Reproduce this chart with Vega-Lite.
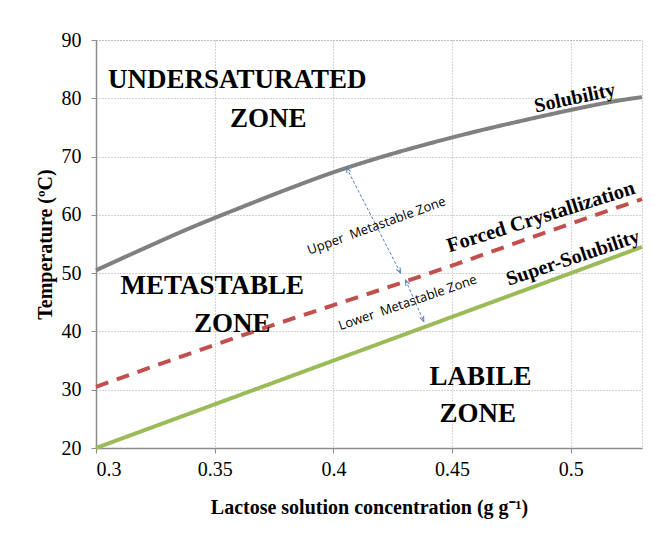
{
  "$schema": "https://vega.github.io/schema/vega-lite/v6.json",
  "width": 546,
  "height": 408,
  "autosize": {"type": "none"},
  "padding": {"left": 96, "top": 40, "right": 23, "bottom": 85},
  "background": "white",
  "config": {
    "view": {"stroke": "#a6a6a6", "strokeDash": [1, 2]},
    "axis": {
      "labelFont": "Liberation Serif",
      "labelFontSize": 20,
      "labelColor": "#000000",
      "titleFont": "Liberation Serif",
      "titleFontSize": 20,
      "titleFontWeight": "bold",
      "titleColor": "#000000",
      "domainColor": "#8c8c8c",
      "domainWidth": 1.5,
      "tickColor": "#8c8c8c",
      "tickSize": 5,
      "gridColor": "#a6a6a6",
      "gridDash": [1, 2],
      "gridWidth": 1
    }
  },
  "datasets": {
    "curves": [
      {"series": "Solubility", "x": 0.30, "y": 50.5},
      {"series": "Solubility", "x": 0.32, "y": 54.2},
      {"series": "Solubility", "x": 0.34, "y": 57.8},
      {"series": "Solubility", "x": 0.36, "y": 61.1},
      {"series": "Solubility", "x": 0.38, "y": 64.3},
      {"series": "Solubility", "x": 0.40, "y": 67.3},
      {"series": "Solubility", "x": 0.42, "y": 69.9},
      {"series": "Solubility", "x": 0.44, "y": 72.2},
      {"series": "Solubility", "x": 0.46, "y": 74.3},
      {"series": "Solubility", "x": 0.48, "y": 76.2},
      {"series": "Solubility", "x": 0.50, "y": 78.0},
      {"series": "Solubility", "x": 0.52, "y": 79.6},
      {"series": "Solubility", "x": 0.53, "y": 80.2},
      {"series": "Forced Crystallization", "x": 0.30, "y": 30.5},
      {"series": "Forced Crystallization", "x": 0.35, "y": 37.7},
      {"series": "Forced Crystallization", "x": 0.45, "y": 51.3},
      {"series": "Forced Crystallization", "x": 0.50, "y": 58.5},
      {"series": "Forced Crystallization", "x": 0.53, "y": 62.7},
      {"series": "Super-Solubility", "x": 0.30, "y": 20.0},
      {"series": "Super-Solubility", "x": 0.35, "y": 27.5},
      {"series": "Super-Solubility", "x": 0.45, "y": 42.5},
      {"series": "Super-Solubility", "x": 0.53, "y": 54.5}
    ],
    "arrows": [
      {"arrow": "upper", "end": "top", "x": 0.4055, "y": 68.1},
      {"arrow": "upper", "end": "bottom", "x": 0.4283, "y": 50.0},
      {"arrow": "lower", "end": "top", "x": 0.4304, "y": 48.8},
      {"arrow": "lower", "end": "bottom", "x": 0.4381, "y": 41.7}
    ],
    "zones": [
      {"label": "UNDERSATURATED", "x": 0.3595, "y": 81.8},
      {"label": "ZONE", "x": 0.3726, "y": 75.1},
      {"label": "METASTABLE", "x": 0.349, "y": 46.4},
      {"label": "ZONE", "x": 0.3574, "y": 39.9},
      {"label": "LABILE", "x": 0.462, "y": 30.8},
      {"label": "ZONE", "x": 0.4608, "y": 24.5}
    ]
  },
  "layer": [
    {
      "data": {"name": "curves"},
      "mark": {"type": "line", "strokeWidth": 4, "strokeCap": "butt", "interpolate": "monotone"},
      "encoding": {
        "x": {
          "field": "x", "type": "quantitative",
          "scale": {"domain": [0.3, 0.53], "nice": false, "zero": false},
          "axis": {"values": [0.3, 0.35, 0.4, 0.45, 0.5], "format": "~g", "labelPadding": 6, "title": "Lactose solution concentration (g g⁻¹)", "titleY": 65, "titleBaseline": "alphabetic"}
        },
        "y": {
          "field": "y", "type": "quantitative",
          "scale": {"domain": [20, 90], "nice": false, "zero": false},
          "axis": {"values": [20, 30, 40, 50, 60, 70, 80, 90], "labelPadding": 10, "title": "Temperature (ºC)", "titleX": -45, "titleBaseline": "alphabetic"}
        },
        "color": {
          "field": "series", "type": "nominal", "legend": null,
          "scale": {"domain": ["Solubility", "Forced Crystallization", "Super-Solubility"], "range": ["#808080", "#c0504d", "#9bbb59"]}
        },
        "strokeDash": {
          "field": "series", "type": "nominal", "legend": null,
          "scale": {"domain": ["Solubility", "Forced Crystallization", "Super-Solubility"], "range": [[1, 0], [13, 9], [1, 0]]}
        }
      }
    },
    {
      "data": {"name": "arrows"},
      "mark": {"type": "line", "stroke": "#4f81bd", "strokeWidth": 1, "strokeDash": [3, 2]},
      "encoding": {
        "x": {"field": "x", "type": "quantitative"},
        "y": {"field": "y", "type": "quantitative"},
        "detail": {"field": "arrow"}
      }
    },
    {
      "data": {"name": "arrows"},
      "transform": [{"filter": "datum.arrow == 'upper' && datum.end == 'top'"}],
      "mark": {"type": "point", "shape": "M-0.6,1.5L0,0L0.6,1.5", "size": 49, "filled": false, "stroke": "#4f81bd", "strokeWidth": 1, "opacity": 1, "angle": -27},
      "encoding": {"x": {"field": "x", "type": "quantitative"}, "y": {"field": "y", "type": "quantitative"}}
    },
    {
      "data": {"name": "arrows"},
      "transform": [{"filter": "datum.arrow == 'upper' && datum.end == 'bottom'"}],
      "mark": {"type": "point", "shape": "M-0.6,1.5L0,0L0.6,1.5", "size": 49, "filled": false, "stroke": "#4f81bd", "strokeWidth": 1, "opacity": 1, "angle": 153},
      "encoding": {"x": {"field": "x", "type": "quantitative"}, "y": {"field": "y", "type": "quantitative"}}
    },
    {
      "data": {"name": "arrows"},
      "transform": [{"filter": "datum.arrow == 'lower' && datum.end == 'top'"}],
      "mark": {"type": "point", "shape": "M-0.6,1.5L0,0L0.6,1.5", "size": 49, "filled": false, "stroke": "#4f81bd", "strokeWidth": 1, "opacity": 1, "angle": -24},
      "encoding": {"x": {"field": "x", "type": "quantitative"}, "y": {"field": "y", "type": "quantitative"}}
    },
    {
      "data": {"name": "arrows"},
      "transform": [{"filter": "datum.arrow == 'lower' && datum.end == 'bottom'"}],
      "mark": {"type": "point", "shape": "M-0.6,1.5L0,0L0.6,1.5", "size": 49, "filled": false, "stroke": "#4f81bd", "strokeWidth": 1, "opacity": 1, "angle": 156},
      "encoding": {"x": {"field": "x", "type": "quantitative"}, "y": {"field": "y", "type": "quantitative"}}
    },
    {
      "data": {"name": "zones"},
      "mark": {"type": "text", "font": "Liberation Serif", "fontSize": 27, "fontWeight": "bold", "color": "#000000", "align": "center", "baseline": "alphabetic"},
      "encoding": {
        "x": {"field": "x", "type": "quantitative"},
        "y": {"field": "y", "type": "quantitative"},
        "text": {"field": "label"}
      }
    },
    {
      "data": {"values": [{"label": "Solubility", "x": 0.5017, "y": 80.05}]},
      "mark": {"type": "text", "font": "Liberation Serif", "fontSize": 20, "fontWeight": "bold", "color": "#000000", "align": "center", "baseline": "middle", "angle": -12},
      "encoding": {"x": {"field": "x", "type": "quantitative"}, "y": {"field": "y", "type": "quantitative"}, "text": {"field": "label"}}
    },
    {
      "data": {"values": [{"label": "Forced Crystallization", "x": 0.4874, "y": 59.6}]},
      "mark": {"type": "text", "font": "Liberation Serif", "fontSize": 20.5, "fontWeight": "bold", "color": "#000000", "align": "center", "baseline": "middle", "angle": -17.5},
      "encoding": {"x": {"field": "x", "type": "quantitative"}, "y": {"field": "y", "type": "quantitative"}, "text": {"field": "label"}}
    },
    {
      "data": {"values": [{"label": "Super-Solubility", "x": 0.5009, "y": 52.6}]},
      "mark": {"type": "text", "font": "Liberation Serif", "fontSize": 20, "fontWeight": "bold", "color": "#000000", "align": "center", "baseline": "middle", "angle": -18.5},
      "encoding": {"x": {"field": "x", "type": "quantitative"}, "y": {"field": "y", "type": "quantitative"}, "text": {"field": "label"}}
    },
    {
      "data": {"values": [{"label": "Upper\u00a0\u00a0Metastable Zone", "x": 0.4182, "y": 58.1}]},
      "mark": {"type": "text", "font": "Open Sans", "fontSize": 13, "color": "#000000", "align": "center", "baseline": "middle", "angle": -20},
      "encoding": {"x": {"field": "x", "type": "quantitative"}, "y": {"field": "y", "type": "quantitative"}, "text": {"field": "label"}}
    },
    {
      "data": {"values": [{"label": "Lower\u00a0\u00a0Metastable Zone", "x": 0.4313, "y": 44.9}]},
      "mark": {"type": "text", "font": "Open Sans", "fontSize": 13, "color": "#000000", "align": "center", "baseline": "middle", "angle": -19},
      "encoding": {"x": {"field": "x", "type": "quantitative"}, "y": {"field": "y", "type": "quantitative"}, "text": {"field": "label"}}
    }
  ]
}
